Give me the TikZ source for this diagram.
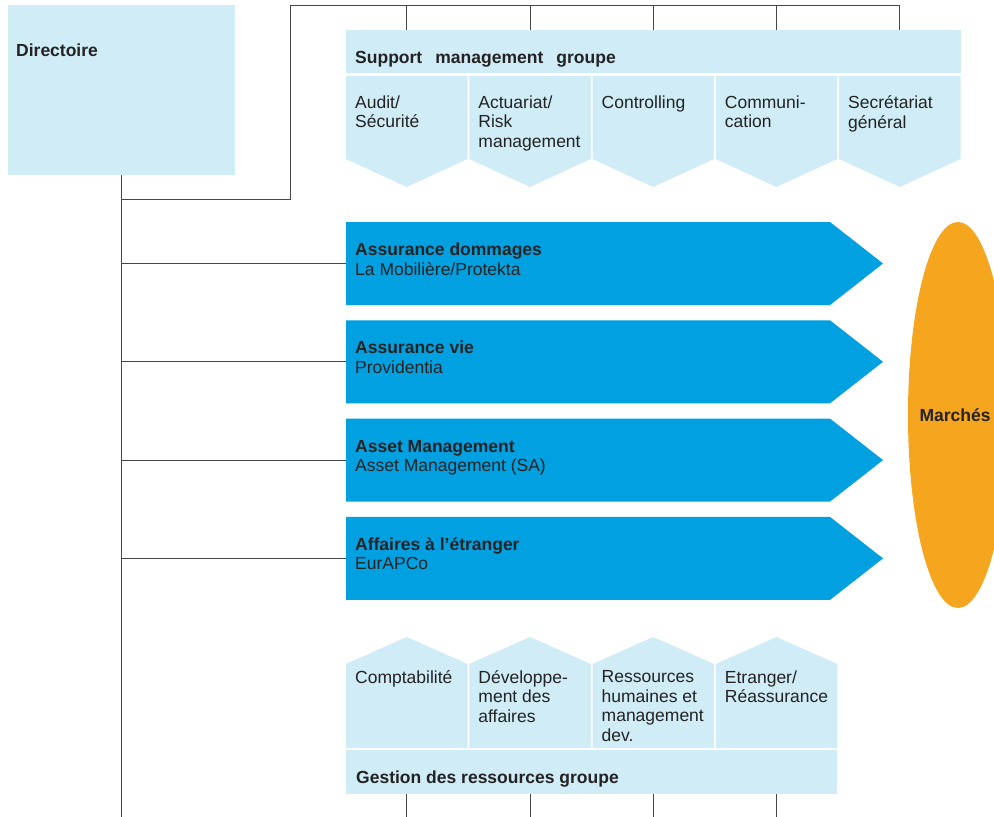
\documentclass[tikz,border=0pt]{standalone}
\usepackage{fontspec}
\setmainfont{Liberation Sans}
\usepackage{tikz}
\usetikzlibrary{shapes.geometric,positioning,calc}
\definecolor{bleuclair}{RGB}{208,236,246}
\definecolor{bleu}{RGB}{0,160,225}
\definecolor{orange}{RGB}{246,166,30}
\definecolor{trait}{RGB}{70,70,70}
\definecolor{texte}{RGB}{35,35,35}
\tikzstyle{cadre} = [fill=bleuclair, draw=none, rectangle, inner sep=0pt, anchor=north west]
\tikzstyle{titre} = [text=texte, font=\bfseries, inner sep=0pt, anchor=base west]
\tikzstyle{libelle} = [text=texte, align=left, inner sep=0pt, anchor=north west]
\tikzstyle{liaison} = [draw=trait, line width=0.9pt]

\begin{document}
\fontsize{17.5}{19.5}\selectfont
\begin{tikzpicture}[x=1pt,y=-1pt]
	\useasboundingbox (0,0) rectangle (994,817);
	% direction
	\node[cadre, minimum width=227pt, minimum height=170pt] (dir) at (8,5) {};
	\node[titre] (dirt) at (16,56) {Directoire};
	% support management groupe
	\node[cadre, minimum width=615pt, minimum height=43pt] (smg) at (346,30) {};
	\node[titre] (smgt) at (355,63) {Support\hspace{0.75em}management\hspace{0.75em}groupe};
	\foreach \t [count=\i from 0] in {Audit/\\Sécurité, Actuariat/\\Risk\\management, Controlling, Communi-\\cation, Secrétariat\\général}{
		\fill[bleuclair] ({346+123.25*\i},76) -- ++(121.5,0) -- ++(0,83) -- ++(-60.75,28) -- ++(-60.75,-28) -- cycle;
		\coordinate (s\i) at ({406.75+123.25*\i},30);
		\coordinate (h\i) at ({406.75+123.25*\i},5);
		\node[libelle] (st\i) at ({355+123.25*\i},95.5) {\t};
		\draw[liaison] (h\i) -- (s\i);
	}
	% unites
	\foreach \a/\b [count=\i from 0] in {Assurance dommages/{La Mobilière/Protekta}, Assurance vie/Providentia, Asset Management/Asset Management (SA), Affaires à l’étranger/EurAPCo}{
		\fill[bleu] (346,{222+98.3*\i}) -- ++(484,0) -- ++(53,41.5) -- ++(-53,41.5) -- ++(-484,0) -- cycle;
		\coordinate (u\i) at (346,{263.5+98.3*\i});
		\node[titre] (ua\i) at (355,{255.5+98.3*\i}) {\a};
		\node[titre, font=\mdseries] (ub\i) at (355,{275+98.3*\i}) {\b};
	}
	% marches
	\node[ellipse, fill=orange, minimum width=100pt, minimum height=386pt, inner sep=0pt, text=texte, font=\bfseries] (mkt) at (958,415) {\hspace{-6pt}Marchés};
	% gestion des ressources groupe
	\node[cadre, minimum width=491pt, minimum height=44pt] (grg) at (346,750) {};
	\node[titre] (grgt) at (356,783) {Gestion des ressources groupe};
	\foreach \t [count=\i from 0] in {Comptabilité, Développe-\\ment des\\affaires, Ressources\\humaines et\\management\\dev., Etranger/\\Réassurance}{
		\fill[bleuclair] ({346+123.25*\i},748) -- ++(0,-84) -- ++(60.75,-27) -- ++(60.75,27) -- ++(0,84) -- cycle;
		\coordinate (g\i) at ({406.75+123.25*\i},794);
		\coordinate (b\i) at ({406.75+123.25*\i},817);
		\node[libelle] (gt\i) at ({355+123.25*\i},670.3) {\t};
		\draw[liaison] (g\i) -- (b\i);
	}
	% liaisons
	\coordinate (bas) at (dir.south |- 0,817);
	\coordinate (coude) at (dir.south |- 0,199);
	\draw[liaison] (dir.south) -- (bas);
	\draw[liaison] (coude) -| (290,5) -- (h4);
	\foreach \i in {0,...,3}{
		\draw[liaison] (dir.south |- u\i) -- (u\i);
	}
\end{tikzpicture}
\end{document}
